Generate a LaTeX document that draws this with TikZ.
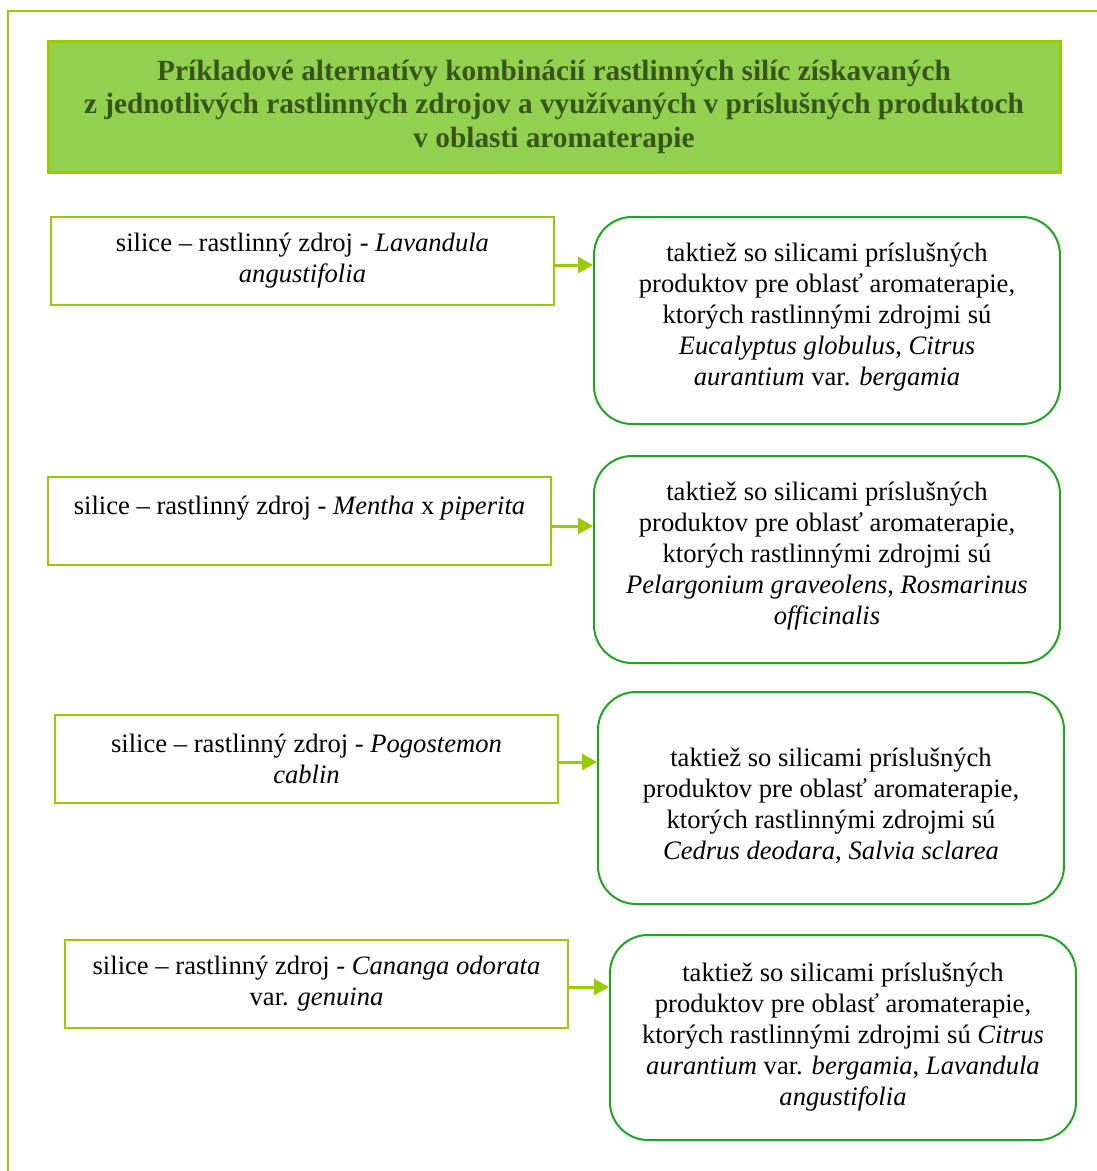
\documentclass[tikz,border=0pt]{standalone}
\usepackage{fontspec}
\setmainfont{Liberation Serif}
\usetikzlibrary{arrows.meta}
\definecolor{framegreen}{HTML}{99CC00}
\definecolor{titlefill}{HTML}{92D050}
\definecolor{titletext}{HTML}{38561C}
\definecolor{roundgreen}{HTML}{1FA51F}
\tikzset{
  srcbox/.style={draw=framegreen, line width=2pt, minimum width=503pt, minimum height=88pt,
    align=center, inner sep=0pt, font=\fontsize{26.6}{31}\selectfont},
  combobox/.style={draw=roundgreen, line width=2pt, rounded corners=38pt, minimum width=466pt,
    align=center, inner sep=0pt, font=\fontsize{26.6}{31}\selectfont},
  link/.style={draw=framegreen, line width=3pt, -{Triangle[length=15pt,width=16pt]}, color=framegreen},
}
% struts that nudge a text block up or down inside its box
\newcommand{\lowerby}[1]{\rule{0pt}{\dimexpr 19pt+2\dimexpr #1\relax\relax}}
\newcommand{\raiseby}[1]{\rule[-\dimexpr 7pt+2\dimexpr #1\relax\relax]{0pt}{0pt}}
\begin{document}
\begin{tikzpicture}[x=1pt,y=-1pt]
\useasboundingbox (0,0) rectangle (1097,1171);
% outer frame (open to the right and bottom)
\draw[framegreen, line width=2pt] (1097,11) -- (8,11) -- (8,1171);
% heading
\node[draw=framegreen, fill=titlefill, line width=3pt, minimum width=1012pt, minimum height=131pt,
  align=center, text=titletext, font=\bfseries\fontsize{29.3}{33.5}\selectfont] (title) at (554,106.5)
  {Príkladové alternatívy kombinácií rastlinných silíc získavaných\\
   z jednotlivých rastlinných zdrojov a využívaných v príslušných produktoch\\
   v oblasti aromaterapie};
% row 1
\node[srcbox] (s1) at (302.5,261)
  {silice – rastlinný zdroj - \textit{Lavandula}\\ \textit{angustifolia}};
\node[combobox, minimum height=207pt] (c1) at (827,320.5)
  {taktiež so silicami príslušných\\ produktov pre oblasť aromaterapie,\\
   ktorých rastlinnými zdrojmi sú\\ \textit{Eucalyptus globulus}, \textit{Citrus}\\
   \textit{aurantium} var. \textit{bergamia}\raiseby{3pt}};
\draw[link] (s1.east |- 0,265) -- (c1.west |- 0,265);
% row 2
\node[srcbox] (s2) at (299.5,521)
  {silice – rastlinný zdroj - \textit{Mentha} x \textit{piperita}\\ \mbox{}};
\node[combobox, minimum height=207pt] (c2) at (827,559.5)
  {taktiež so silicami príslušných\\ produktov pre oblasť aromaterapie,\\
   ktorých rastlinnými zdrojmi sú\\ \textit{Pelargonium graveolens}, \textit{Rosmarinus}\\
   \textit{officinalis}\raiseby{3pt}};
\draw[link] (s2.east |- 0,526) -- (c2.west |- 0,526);
% row 3
\node[srcbox] (s3) at (306.5,759)
  {silice – rastlinný zdroj - \textit{Pogostemon}\\ \textit{cablin}};
\node[combobox, minimum height=212pt] (c3) at (831,798)
  {\lowerby{8pt}taktiež so silicami príslušných\\ produktov pre oblasť aromaterapie,\\
   ktorých rastlinnými zdrojmi sú\\ \textit{Cedrus deodara}, \textit{Salvia sclarea}};
\draw[link] (s3.east |- 0,762) -- (c3.west |- 0,762);
% row 4
\node[srcbox] (s4) at (316.5,983.5)
  {silice – rastlinný zdroj - \textit{Cananga odorata}\\ var. \textit{genuina}};
\node[combobox, minimum height=205pt] (c4) at (843,1037.5)
  {taktiež so silicami príslušných\\ produktov pre oblasť aromaterapie,\\
   ktorých rastlinnými zdrojmi sú \textit{Citrus}\\ \textit{aurantium} var. \textit{bergamia}, \textit{Lavandula}\\
   \textit{angustifolia}};
\draw[link] (s4.east |- 0,987) -- (c4.west |- 0,987);
\end{tikzpicture}
\end{document}
